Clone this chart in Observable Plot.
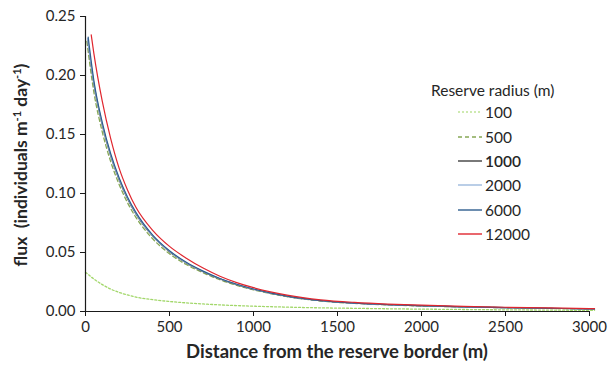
<!DOCTYPE html>
<html>
<head>
<meta charset="utf-8">
<script src="https://cdn.jsdelivr.net/npm/d3@7"></script>
<script src="https://cdn.jsdelivr.net/npm/@observablehq/plot@0.6"></script>
<style>
  html, body { margin: 0; padding: 0; background: #fff; }
  #chart { position: relative; width: 608px; height: 369px; font-family: Lato, "Open Sans", sans-serif; }
  #legend { position: absolute; left: 431px; top: 80px; font-size: 15.5px; color: #262626; }
  #legend .title { line-height: 20px; height: 20px; white-space: nowrap; }
  #legend .row { display: flex; align-items: center; height: 24.4px; margin-left: 27px; }
  #legend svg { margin-right: 3px; }
</style>
</head>
<body>
<div id="chart"></div>
<script>
// Reserve radii (m) and their line styles
const radii = ["100", "500", "1000", "2000", "6000", "12000"];
const colors = ["#92D050", "#86A856", "#404040", "#9DB9DD", "#2F5E8E", "#E0262E"];
const dashes = ["2,2", "4,3", "none", "none", "none", "none"];

// Distance from the reserve border (m); first point of each series starts at startDistance
const distances = [0, 50, 100, 150, 200, 250, 300, 400, 500, 600, 700, 800, 900, 1000,
                   1200, 1400, 1600, 1800, 2000, 2250, 2500, 2750, 3000, 3030];
const startDistance = [0, 8, 12, 12, 16, 34];

// Flux (individuals m-1 day-1) for each reserve radius
const flux100   = [0.0333, 0.0275, 0.0228, 0.0190, 0.0162, 0.0140, 0.0122, 0.0100, 0.0085, 0.0073, 0.0064, 0.0056,
                   0.0050, 0.0045, 0.0037, 0.0031, 0.0027, 0.0023, 0.0020, 0.0017, 0.0014, 0.0012, 0.0010, 0.0010];
const flux500   = [0.2290, 0.1857, 0.1521, 0.1270, 0.1077, 0.0922, 0.0798, 0.0616, 0.0489, 0.0398, 0.0328, 0.0269,
                   0.0222, 0.0184, 0.0126, 0.0089, 0.0069, 0.0056, 0.0047, 0.0039, 0.0032, 0.0026, 0.0021, 0.0020];
const flux1000  = [0.2310, 0.1926, 0.1577, 0.1317, 0.1117, 0.0956, 0.0827, 0.0638, 0.0507, 0.0411, 0.0337, 0.0276,
                   0.0228, 0.0188, 0.0128, 0.0091, 0.0070, 0.0057, 0.0048, 0.0039, 0.0032, 0.0027, 0.0022, 0.0021];
const flux2000  = [0.2315, 0.1935, 0.1585, 0.1324, 0.1123, 0.0961, 0.0832, 0.0642, 0.0510, 0.0413, 0.0339, 0.0277,
                   0.0229, 0.0189, 0.0129, 0.0091, 0.0070, 0.0057, 0.0049, 0.0040, 0.0033, 0.0027, 0.0022, 0.0021];
const flux6000  = [0.2325, 0.1955, 0.1601, 0.1337, 0.1134, 0.0971, 0.0840, 0.0648, 0.0515, 0.0417, 0.0342, 0.0280,
                   0.0231, 0.0191, 0.0130, 0.0092, 0.0071, 0.0058, 0.0049, 0.0040, 0.0033, 0.0027, 0.0022, 0.0021];
const flux12000 = [0.2345, 0.2185, 0.1780, 0.1465, 0.1215, 0.1030, 0.0883, 0.0688, 0.0552, 0.0452, 0.0368, 0.0299,
                   0.0245, 0.0202, 0.0139, 0.0099, 0.0077, 0.0063, 0.0054, 0.0044, 0.0036, 0.0030, 0.0025, 0.0024];

// Axis ticks
const xTicks = [0, 500, 1000, 1500, 2000, 2500, 3000];
const yTicks = [0, 0.05, 0.10, 0.15, 0.20, 0.25];

const series = [flux100, flux500, flux1000, flux2000, flux6000, flux12000];
const rows = radii.flatMap((r, i) => series[i].map((v, j) => ({
  radius: r,
  distance: j === 0 ? startDistance[i] : distances[j],
  flux: v
})));

const lines = radii.map((r, i) => Plot.line(rows.filter(d => d.radius === r), {
  x: "distance", y: "flux",
  curve: "monotone-x",
  stroke: colors[i],
  strokeWidth: i < 2 ? 1.3 : 1.2,
  strokeDasharray: dashes[i],
  strokeOpacity: i === 0 ? 0.85 : 1
}));

const plot = Plot.plot({
  width: 608,
  height: 369,
  marginLeft: 85,
  marginRight: 19,
  marginTop: 16,
  marginBottom: 58,
  style: { fontFamily: "Lato, 'Open Sans', sans-serif", fontSize: "15px", color: "#262626", background: "#fff" },
  x: { domain: [0, 3000], label: null },
  y: { domain: [0, 0.25], label: null },
  marks: [
    Plot.axisX({ ticks: xTicks, tickSize: 5, tickPadding: 5, tickFormat: d => String(d), label: null, stroke: "#1a1a1a" }),
    Plot.axisY({ ticks: yTicks, tickSize: 5, tickPadding: 5, tickFormat: d3.format(".2f"), label: null, stroke: "#1a1a1a" }),
    ...lines,
    Plot.ruleX([0], { stroke: "#1a1a1a", strokeWidth: 1.2 }),
    Plot.ruleY([0], { stroke: "#1a1a1a", strokeWidth: 1.2 })
  ]
});

const chart = document.getElementById("chart");
chart.appendChild(plot);

// Axis titles
const svg = d3.select(plot);
svg.append("text")
  .attr("x", 337).attr("y", 358)
  .attr("text-anchor", "middle")
  .attr("font-weight", "bold")
  .attr("font-size", 18.5)
  .attr("fill", "#262626")
  .text("Distance from the reserve border (m)");

const yt = svg.append("text")
  .attr("transform", "translate(27,165) rotate(-90)")
  .attr("text-anchor", "middle")
  .attr("font-weight", "bold")
  .attr("font-size", 17.5)
  .attr("fill", "#262626")
  .attr("xml:space", "preserve");
yt.append("tspan").text("flux  (individuals m");
yt.append("tspan").attr("font-size", 11).attr("dy", -6).text("-1");
yt.append("tspan").attr("dy", 6).text(" day");
yt.append("tspan").attr("font-size", 11).attr("dy", -6).text("-1");
yt.append("tspan").attr("dy", 6).text(")");

// Legend
const legend = d3.select(chart).append("div").attr("id", "legend");
legend.append("div").attr("class", "title").text("Reserve radius (m)");
radii.forEach((r, i) => {
  const row = legend.append("div").attr("class", "row");
  const sw = row.append("svg").attr("width", 24).attr("height", 10);
  sw.append("line")
    .attr("x1", 0).attr("x2", 24).attr("y1", 5).attr("y2", 5)
    .attr("stroke", colors[i])
    .attr("stroke-width", 1.4)
    .attr("stroke-dasharray", dashes[i])
    .attr("stroke-opacity", i === 0 ? 0.6 : 1);
  row.append("span").style("font-weight", r === "1000" ? "600" : "normal").text(r);
});
</script>
</body>
</html>
